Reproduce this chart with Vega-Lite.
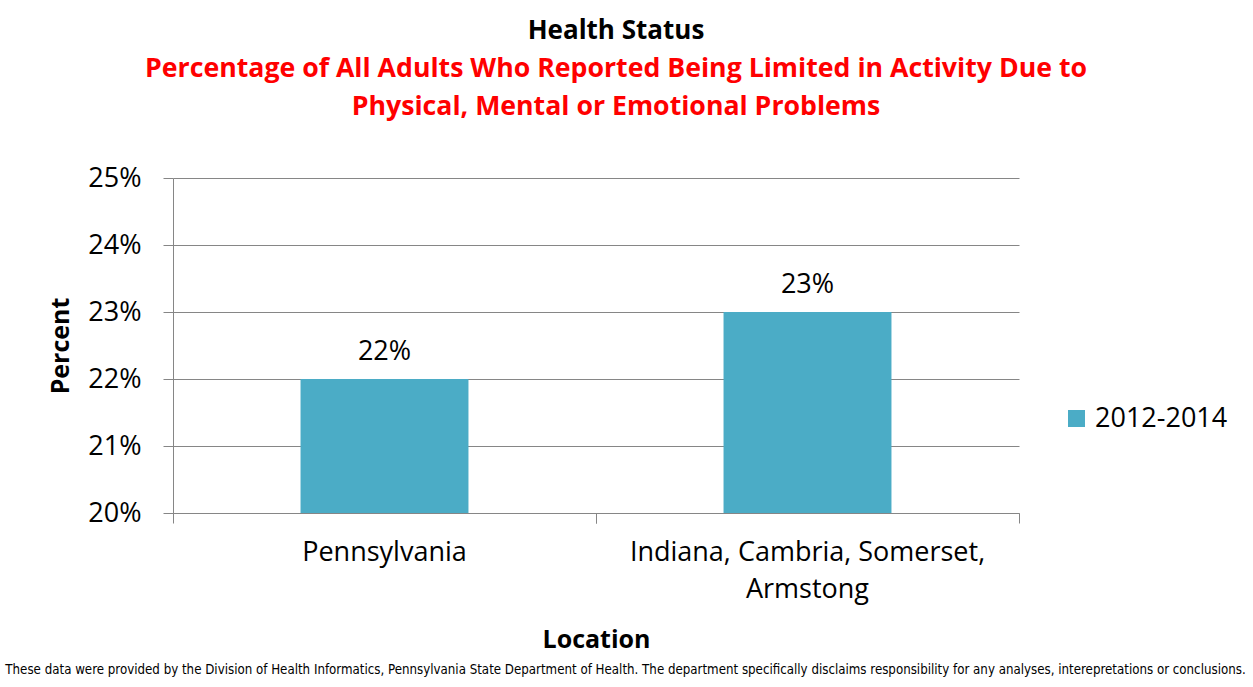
{
  "$schema": "https://vega.github.io/schema/vega-lite/v6.json",
  "autosize": {"type": "none"},
  "width": 846,
  "height": 335,
  "padding": {"left": 173, "top": 178, "right": 234, "bottom": 174},
  "background": "white",
  "title": {
    "text": "Health Status",
    "subtitle": ["Percentage of All Adults Who Reported Being Limited in Activity Due to", "Physical, Mental or Emotional Problems"],
    "anchor": "middle",
    "frame": "group",
    "dx": 20,
    "offset": 43,
    "font": "Open Sans",
    "fontSize": 26,
    "fontWeight": "bold",
    "color": "black",
    "subtitleFont": "Open Sans",
    "subtitleFontSize": 26.7,
    "subtitleFontWeight": "bold",
    "subtitleColor": "#FF0000",
    "subtitleLineHeight": 38,
    "subtitlePadding": 12
  },
  "config": {
    "view": {"stroke": null},
    "axis": {
      "labelFont": "Open Sans",
      "labelFontSize": 27,
      "labelColor": "black",
      "titleFont": "Open Sans",
      "titleFontSize": 25,
      "titleFontWeight": "bold",
      "titleColor": "black",
      "tickColor": "#868686",
      "domainColor": "#868686",
      "gridColor": "#868686",
      "tickSize": 10
    },
    "legend": {
      "labelFont": "Open Sans",
      "labelFontSize": 27,
      "labelColor": "black"
    }
  },
  "data": {
    "values": [
      {"location": "Pennsylvania", "period": "2012-2014", "percent": 0.22},
      {"location": "Indiana, Cambria, Somerset, Armstong", "period": "2012-2014", "percent": 0.23}
    ]
  },
  "resolve": {"scale": {"x": "independent"}, "axis": {"x": "independent"}},
  "layer": [
    {
      "encoding": {
        "x": {
          "field": "location",
          "type": "nominal",
          "sort": null,
          "title": "Location",
          "scale": {"paddingInner": 0, "paddingOuter": 0},
          "axis": {
            "orient": "bottom",
            "labelAngle": 0,
            "bandPosition": 0,
            "labelPadding": 16,
            "labelLineHeight": 37,
            "labelLimit": 600,
            "labelExpr": "datum.value == 'Indiana, Cambria, Somerset, Armstong' ? ['Indiana, Cambria, Somerset,', 'Armstong'] : datum.value",
            "titlePadding": 25,
            "grid": false
          }
        },
        "y": {
          "field": "percent",
          "type": "quantitative",
          "title": "Percent",
          "scale": {"domain": [0.2, 0.25], "nice": false, "zero": false},
          "axis": {
            "values": [0.2, 0.21, 0.22, 0.23, 0.24, 0.25],
            "format": ".0%",
            "labelPadding": 22,
            "titlePadding": 14,
            "grid": true
          }
        }
      },
      "layer": [
        {
          "mark": {"type": "bar", "width": {"band": 0.397}},
          "encoding": {
            "y2": {"datum": 0.2},
            "color": {
              "field": "period",
              "type": "nominal",
              "scale": {"range": ["#4BACC6"]},
              "legend": {
                "title": null,
                "orient": "none",
                "legendX": 890,
                "legendY": 227,
                "symbolType": "square",
                "symbolSize": 289,
                "symbolStrokeWidth": 0,
                "symbolOpacity": 1,
                "labelOffset": 5,
                "padding": 0
              }
            }
          }
        },
        {
          "mark": {"type": "text", "font": "Open Sans", "fontSize": 27, "baseline": "alphabetic", "dy": -19, "color": "black"},
          "encoding": {
            "text": {"field": "percent", "type": "quantitative", "format": ".0%"}
          }
        }
      ]
    },
    {
      "mark": {"type": "text", "opacity": 0},
      "encoding": {
        "x": {
          "field": "location",
          "type": "nominal",
          "sort": null,
          "scale": {"type": "band", "paddingInner": 0, "paddingOuter": 0},
          "axis": {
            "orient": "bottom",
            "title": "These data were provided by the Division of Health Informatics, Pennsylvania State Department of Health.  The department specifically disclaims responsibility for any analyses, interepretations or conclusions.",
            "bandPosition": 1,
            "labels": false,
            "ticks": true,
            "domain": false,
            "grid": false,
            "titleFont": "DejaVu Sans Condensed",
            "titleFontSize": 13.2,
            "titleFontWeight": "normal",
            "titleColor": "black",
            "titlePadding": 140,
            "titleX": 452,
            "titleAnchor": "middle"
          }
        },
        "text": {"value": ""}
      }
    }
  ]
}
